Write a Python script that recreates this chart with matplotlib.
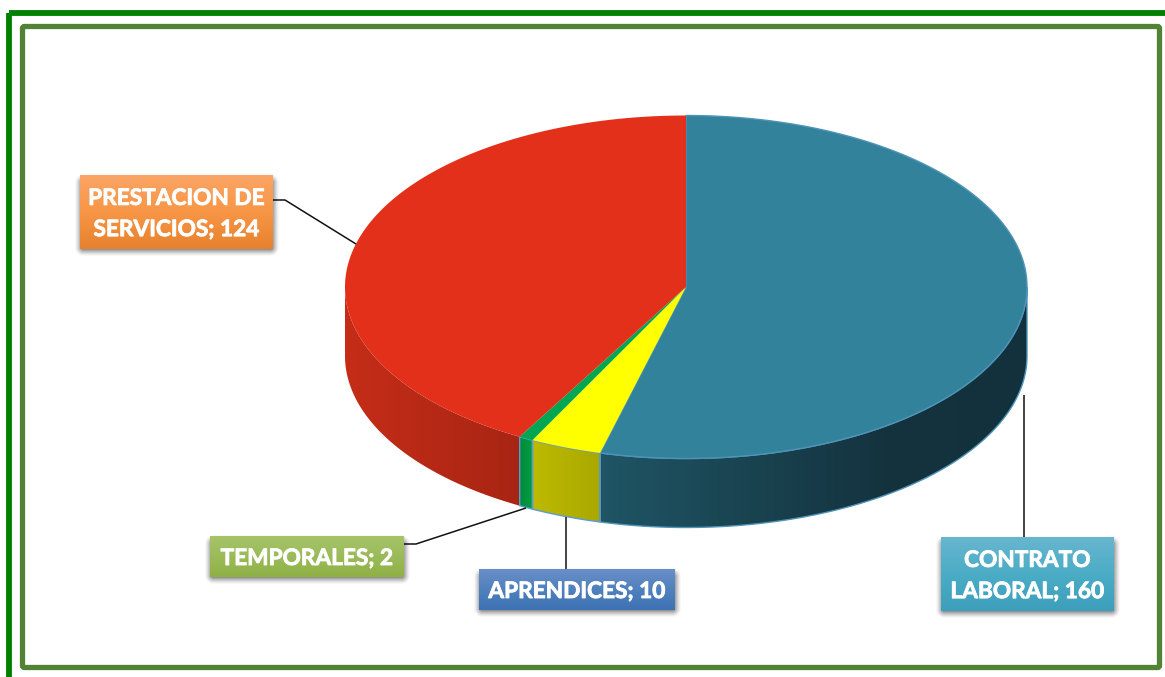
import numpy as np
import matplotlib
matplotlib.use("Agg")
import matplotlib.pyplot as plt
import matplotlib.patheffects as pe
from matplotlib.colors import LinearSegmentedColormap
from matplotlib.patches import Polygon, Rectangle, FancyBboxPatch

plt.rcParams["font.family"] = ["Lato", "DejaVu Sans"]

# chart data, clockwise from 12 o'clock
categories = ["CONTRATO\nLABORAL", "APRENDICES", "TEMPORALES", "PRESTACION DE\nSERVICIOS"]
values = [160, 10, 2, 124]
top_colors = ["#33829C", "#FFFF00", "#00A651", "#E2301A"]
side_colors = [
    ["#1F5565", "#1A4451", "#14333F", "#13313C"],
    ["#BDBA00", "#AAA800"],
    ["#008A3C", "#00A040"],
    ["#C52D18", "#A82513"],
]
top_edges = ["#4F94B8", "none", "none", "none"]
side_edges = ["#4F94B8", "#5B9BD5", "#5B9BD5", "none"]

# label boxes in pixels: x0, y0, x1, y1
label_boxes = [(941, 537, 1114, 611), (479, 569, 675, 610), (210, 536, 404, 577), (80, 175, 273, 249)]
box_colors = [
    ["#68B6CF", "#4BACC6", "#3D9FBB"],
    ["#6A8FC8", "#4F81BD", "#3F72B3"],
    ["#A6C468", "#9BBB59", "#8FB045"],
    ["#FBA566", "#F79646", "#E6822E"],
]
leaders = [
    [(1024, 537), (1024, 395)],
    [(566, 569), (566, 517)],
    [(404, 544), (416, 544), (526, 508)],
    [(273, 200), (285, 200), (356, 244)],
]

W, H = 1165, 677
CX, CY, RX, RY, DEPTH = 686, 287, 341, 171.5, 69


def ell(t, dy=0):
    x = CX + RX * np.sin(np.radians(t))
    y = CY - RY * np.cos(np.radians(t)) + dy
    return np.column_stack([x, y])


def gradient(ax, colors, extent, horizontal, zorder, clip=None):
    cmap = LinearSegmentedColormap.from_list("g", colors)
    ramp = np.linspace(0, 1, 256)
    ramp = ramp[None, :] if horizontal else ramp[:, None]
    im = ax.imshow(ramp, cmap=cmap, extent=extent, origin="upper", aspect="auto",
                   zorder=zorder, interpolation="bilinear")
    if clip is not None:
        im.set_clip_path(clip)
    return im


def soft_shadow(ax, x0, y0, x1, y1, blur=9, zorder=6):
    # fade out with the distance to a box tucked under the label
    px, py = np.meshgrid(np.arange(x0 - 10, x1 + 11), np.arange(y0 - 10, y1 + 16))
    dx = np.maximum(np.maximum(x0 + 3 - px, px - x1 + 3), 0)
    dy = np.maximum(np.maximum(y0 + 8 - py, py - y1 + 1), 0)
    d = np.hypot(dx, dy)
    img = np.zeros(px.shape + (4,))
    img[..., 3] = 0.6 * np.clip(1 - d / blur, 0, 1) ** 1.4
    ax.imshow(img, extent=(x0 - 10.5, x1 + 10.5, y1 + 15.5, y0 - 10.5), origin="upper",
              aspect="auto", zorder=zorder, interpolation="bilinear")


fig = plt.figure(figsize=(W / 100, H / 100), dpi=100)
ax = fig.add_axes([0, 0, 1, 1])
ax.axis("off")

# frames
ax.add_patch(Rectangle((9, 12.5), W + 50, H + 50, fill=False, ec="#008000", lw=4.2, zorder=1))
ax.add_patch(FancyBboxPatch((22.5, 26.5), 1137, 641, boxstyle="round,pad=0,rounding_size=2",
                            fill=False, ec="#548235", lw=3.8, zorder=1))

# slices
edges = np.concatenate([[0], np.cumsum(values)]) / sum(values) * 360
for i in range(len(values)):
    a0, a1 = edges[i], edges[i + 1]

    # side wall, only the front half shows
    s0, s1 = max(a0, 90), min(a1, 270)
    if s1 > s0:
        t = np.linspace(s0, s1, 200)
        pts = np.vstack([ell(t), ell(t[::-1], DEPTH)])
        poly = Polygon(pts, closed=True, fc="none", ec="none", zorder=2)
        ax.add_patch(poly)
        gradient(ax, side_colors[i], (pts[:, 0].min(), pts[:, 0].max(), CY + DEPTH + RY, CY), True, 2, poly)
        ax.add_patch(Polygon(pts, closed=True, fill=False, ec=side_edges[i], lw=1, zorder=3))

    # top face
    t = np.linspace(a0, a1, 300)
    pts = np.vstack([[CX, CY], ell(t)])
    ax.add_patch(Polygon(pts, closed=True, fc=top_colors[i], ec=top_edges[i], lw=1, zorder=4))

# leader lines
for line in leaders:
    xs, ys = zip(*line)
    ax.plot(xs, ys, color="#111111", lw=1.1, zorder=5, solid_capstyle="butt")

# label boxes
for i, (x0, y0, x1, y1) in enumerate(label_boxes):
    soft_shadow(ax, x0, y0, x1, y1)
    gradient(ax, box_colors[i], (x0, x1, y1, y0), False, 7)
    ax.text((x0 + x1) / 2, (y0 + y1) / 2 + 2, f"{categories[i]}; {values[i]}", color="white",
            fontsize=16.3, fontweight="bold", ha="center", va="center", linespacing=1.6, zorder=8,
            path_effects=[pe.withStroke(linewidth=0.6, foreground="white")])

ax.set_xlim(0, W)
ax.set_ylim(H, 0)

fig.savefig("out.png", dpi=100, facecolor="white")
